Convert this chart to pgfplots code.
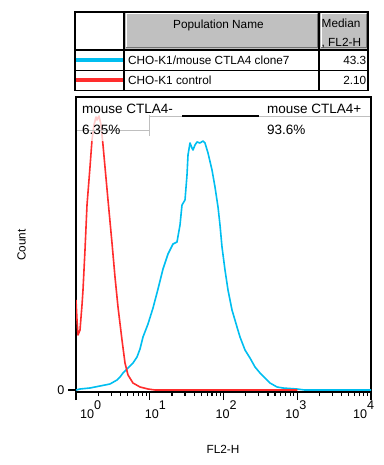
\documentclass[border=0pt]{standalone}
\usepackage{fontspec}
\setmainfont{Liberation Sans}
\usepackage{pgfplots}
\pgfplotsset{compat=1.18}
\definecolor{cyanline}{RGB}{0,190,240}
\definecolor{redline}{RGB}{255,45,45}
\definecolor{hdrgrey}{RGB}{192,192,192}
\newcommand\xtl[2]{\makebox[0pt][l]{\hspace*{#1}10\raisebox{9bp}{#2}}}

\pgfplotstableread{
e c
0.0000 90
0.0136 70
0.0271 55
0.0542 60
0.0814 85
0.0949 100
0.1220 140
0.1492 185
0.1898 223
0.2169 250
0.2441 265
0.2712 273
0.2847 270
0.3119 274
0.3390 265
0.3661 245
0.3932 223
0.4339 190
0.4881 147
0.5288 113
0.5695 83
0.6237 50
0.6644 27
0.7051 15
0.7729 7
0.8678 3
0.9763 1
1.0712 0
3.0000 0
}\controltable

\pgfplotstableread{
e c
0.0000 0
0.0542 1
0.1898 2
0.3254 4
0.4610 6
0.5559 10
0.5966 13
0.6373 17
0.7051 22
0.7729 27
0.8271 33
0.8678 41
0.9085 53
0.9763 66
1.0441 82
1.1119 101
1.1797 121
1.2475 136
1.3153 146
1.3695 148
1.4102 165
1.4373 185
1.4780 190
1.5051 215
1.5186 235
1.5458 247
1.5729 242
1.5864 240
1.6136 245
1.6407 248
1.6814 247
1.7220 249
1.7492 247
1.7898 237
1.8441 220
1.8847 203
1.9254 183
1.9525 165
1.9797 143
2.0203 120
2.0610 100
2.1153 80
2.1831 63
2.2237 53
2.2915 40
2.3593 32
2.4271 23
2.4949 17
2.5627 12
2.6305 7
2.7254 3
2.8068 2
2.9966 1
3.1000 0
4.0000 0
}\clonetable

\begin{document}
\begin{tikzpicture}
\useasboundingbox (0,0) rectangle (384bp,465bp);
\begin{axis}[
  at={(76bp,73bp)}, anchor=south west,
  scale only axis, width=295bp, height=295bp,
  xmin=0, xmax=4, ymin=-2, ymax=293,
  axis line style={line width=1.8bp},
  xtick={0,1,2,3,4},
  xticklabels={\xtl{4bp}{0},\xtl{-5bp}{1},\xtl{-8bp}{2},\xtl{-12bp}{3},\xtl{-18bp}{4}},
  minor xtick={0.30103,0.47712,0.60206,0.69897,0.77815,0.84510,0.90309,0.95424,
               1.30103,1.47712,1.60206,1.69897,1.77815,1.84510,1.90309,1.95424,
               2.30103,2.47712,2.60206,2.69897,2.77815,2.84510,2.90309,2.95424,
               3.30103,3.47712,3.60206,3.69897,3.77815,3.84510,3.90309,3.95424},
  ytick={0}, yticklabels={0},
  xtick pos=lower, ytick pos=left,
  tick align=outside,
  major tick length=8bp, minor tick length=4bp,
  every tick/.style={black, line width=1.2bp},
  every minor tick/.style={black, line width=1.2bp},
  tick label style={font=\fontsize{12.6bp}{14bp}\selectfont},
  xticklabel style={anchor=north, inner sep=1bp},
  clip=true,
]
\addplot[cyanline, line width=1.6bp, line join=round] table[x=e,y=c] {\clonetable};
\addplot[redline, line width=1.6bp, line join=round] table[x=e,y=c] {\controltable};
\end{axis}

\begin{scope}[shift={(0,465bp)}, x=1bp, y=-1bp]
  % gate annotations
  \fill[white, opacity=0.75] (77.5,98.5) rectangle (176,141);
  \draw[black!25, line width=1bp] (77,131) -- (149,131);
  \draw[black!25, line width=1bp] (149,115) -- (149,136);
  \draw[black!25, line width=1bp] (149,117) -- (370,117);
  \draw[black, line width=1.2bp] (182,116) -- (259,116);
  \begin{scope}[every node/.style={inner sep=0pt, font=\fontsize{13.5bp}{16bp}\selectfont}]
    \node[anchor=base west] at (82,114) {mouse CTLA4-};
    \node[anchor=base west] at (82,135) {6.35\%};
    \node[anchor=base west] at (267,114) {mouse CTLA4+};
    \node[anchor=base west] at (267,135) {93.6\%};
  \end{scope}

  % table
  \fill[hdrgrey] (124,12) rectangle (319,50);
  \fill[hdrgrey] (319,12) rectangle (368,50);
  \draw[white, line width=1bp] (126,48) -- (126,14) -- (317,14);
  \draw[black!55, line width=1bp] (126,48) -- (317,48) -- (317,14);
  \draw[white, line width=1bp] (321,48) -- (321,14) -- (366,14);
  \draw[black!55, line width=1bp] (321,48) -- (366,48) -- (366,14);
  \draw[line width=1.3bp] (75,12) rectangle (368,90.5);
  \draw[line width=1.3bp] (75,50) -- (368,50);
  \draw[line width=1.3bp] (75,70.5) -- (368,70.5);
  \draw[line width=1.3bp] (124,12) -- (124,90.5);
  \draw[line width=1.3bp] (319,12) -- (319,90.5);
  \draw[cyanline, line width=4bp] (75.6,60) -- (123.4,60);
  \draw[redline, line width=4bp] (75.6,80.5) -- (123.4,80.5);
  \begin{scope}[every node/.style={inner sep=0pt, font=\fontsize{11.8bp}{14bp}\selectfont}]
    \node[anchor=base west] at (173,28.3) {Population Name};
    \node[anchor=base west] at (321.5,27.3) {Median};
    \node[anchor=base west] at (321.5,46.7) {, FL2-H};
    \node[anchor=base west] at (128,65) {CHO-K1/mouse CTLA4 clone7};
    \node[anchor=base west] at (128,84.3) {CHO-K1 control};
    \node[anchor=base east] at (366.5,65) {43.3};
    \node[anchor=base east] at (366.5,84.3) {2.10};
  \end{scope}

  % axis titles
  \node[inner sep=0pt, font=\fontsize{11.8bp}{14bp}\selectfont, anchor=base] at (223,454) {FL2-H};
  \node[inner sep=0pt, font=\fontsize{11.8bp}{14bp}\selectfont, rotate=90, anchor=base] at (25.5,245) {Count};
\end{scope}
\end{tikzpicture}
\end{document}
